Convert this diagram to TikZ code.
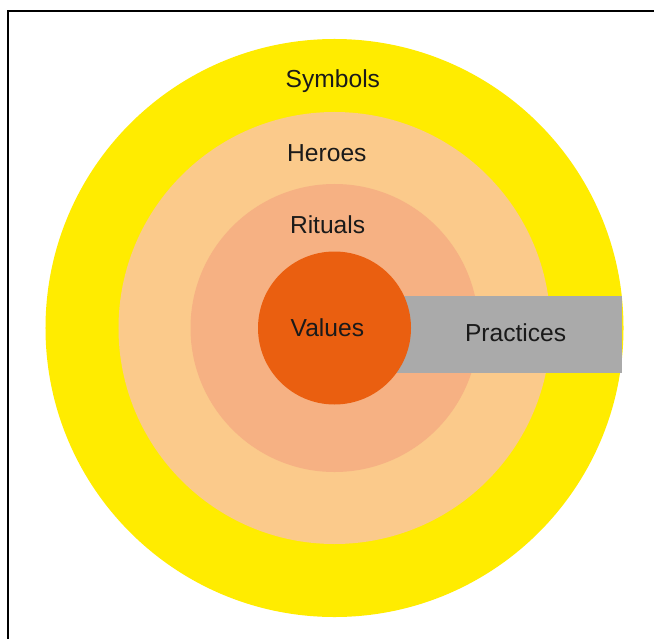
\documentclass[tikz,border=0pt]{standalone}
\usepackage{fontspec}
\setmainfont{Liberation Sans}
\definecolor{symcol}{HTML}{FFEC00}
\definecolor{hercol}{HTML}{FBCA8B}
\definecolor{ritcol}{HTML}{F6B183}
\definecolor{valcol}{HTML}{EA5F10}
\definecolor{praccol}{HTML}{AAAAAA}
\definecolor{txtcol}{HTML}{1A1A1A}
\begin{document}
\begin{tikzpicture}[x=1bp,y=-1bp,
  ring/.style={circle,draw=none,inner sep=0pt,outer sep=0pt},
  lbl/.style={anchor=base west,inner sep=0pt,text=txtcol,font=\fontsize{24.6bp}{28bp}\selectfont}]
\useasboundingbox (0,0) rectangle (654,639);
\fill[white] (0,0) rectangle (654,639);
\coordinate (c) at (334.5,328);
\node[ring,fill=symcol,minimum size=578bp] (symbols) at (c) {};
\node[ring,fill=hercol,minimum size=432bp] (heroes) at (c) {};
\node[ring,fill=ritcol,minimum size=288bp] (rituals) at (c) {};
\fill[praccol] (380,296) rectangle (622,373);
\node[ring,fill=valcol,minimum size=153bp] (values) at (c) {};
\node[lbl] (tsym) at (285.5,87.3) {Symbols};
\node[lbl] (ther) at (287,161.7) {Heroes};
\node[lbl] (trit) at (289.8,233.3) {Rituals};
\node[lbl] (tval) at (290.5,336.7) {Values};
\node[lbl] (tprac) at (464.8,341.7) {Practices};
\coordinate (fa) at (8,639);
\coordinate (fb) at (8,11);
\coordinate (fc) at (654,11);
\draw[line width=1.4bp] (fa) -- (fb) -- (fc);
\end{tikzpicture}
\end{document}
